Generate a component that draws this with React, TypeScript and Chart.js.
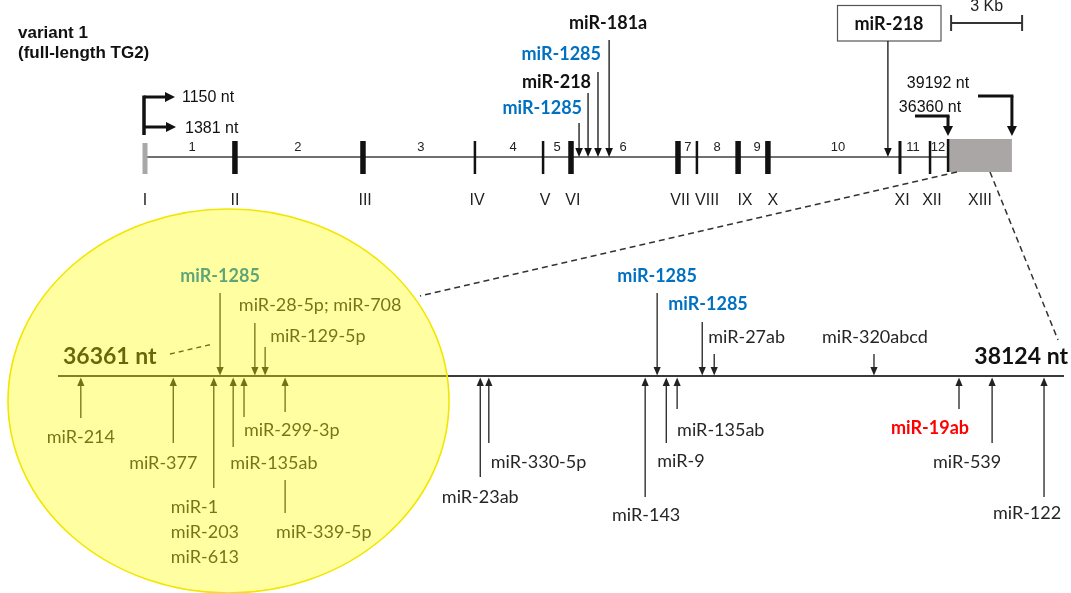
import React, { useEffect, useRef } from "react";
import { Chart, registerables } from "chart.js";

Chart.register(...registerables);

const CANVAS_W = 1071;
const CANVAS_H = 593;

// ---------------- data ----------------
const titleLines = ["variant 1", "(full-length TG2)"];

// TG2 gene: exons (kb from exon I)
const exonNames = ["I", "II", "III", "IV", "V", "VI", "VII", "VIII", "IX", "X", "XI", "XII", "XIII"];
const exonKb = [0, 3.8, 9.21, 13.94, 16.82, 18.0, 22.52, 23.32, 25.06, 26.32, 31.9, 33.17, 33.93];
const exonXIIIEndKb = 36.63;
const exonIsLarge = [false, true, true, false, false, true, true, false, true, true, false, false, false];
const exonLabelKb = [0, 3.8, 9.3, 14.03, 16.9, 18.08, 22.61, 23.75, 25.35, 26.53, 31.99, 33.25, 35.28];

const intronNames = ["1", "2", "3", "4", "5", "6", "7", "8", "9", "10", "11", "12"];
const intronLabelKb = [1.99, 6.46, 11.66, 15.55, 17.41, 20.2, 22.94, 24.17, 25.86, 29.28, 32.45, 33.51];

const tssLabels = ["1150 nt", "1381 nt"];
const utrMarkLabels = ["36360 nt", "39192 nt"];
const utrMarkKb = [33.93, 36.63];

// miRNA sites in the coding region (kb)
const codingMirNames = ["miR-1285", "miR-218", "miR-1285", "miR-181a"];
const codingMirKb = [18.34, 18.72, 19.14, 19.61];
const codingMirBlue = [true, false, true, false];
const boxedMirName = "miR-218";
const boxedMirKb = 31.39;
const scaleBarLabel = "3 Kb";
const scaleBarStartKb = 34.06;
const scaleBarKbLen = 3;

// 3'UTR zoom (nt)
const utrStartNt = 36361;
const utrEndNt = 38124;
const utrMirNames = [
  "miR-214", "miR-377", "miR-1285", "miR-1\nmiR-203\nmiR-613", "miR-135ab", "miR-299-3p",
  "miR-28-5p; miR-708", "miR-129-5p", "miR-339-5p", "miR-23ab", "miR-330-5p", "miR-143",
  "miR-1285", "miR-9", "miR-135ab", "miR-1285", "miR-27ab", "miR-320abcd", "miR-19ab",
  "miR-539", "miR-122",
];
const utrMirNt = [
  36401, 36563, 36645, 36634, 36668, 36687, 36706, 36724, 36759, 37101, 37116, 37390,
  37411, 37427, 37446, 37490, 37511, 37791, 37940, 37998, 38089,
];
const utrMirDown = [
  false, false, true, false, false, false, true, true, false, false, false, false,
  true, false, false, true, true, true, false, false, false,
];
const utrMirKind = [
  "n", "n", "blue", "n", "n", "n", "n", "n", "n", "n", "n", "n",
  "blue", "n", "n", "blue", "n", "n", "red", "n", "n",
];

// layout for the UTR labels: [stem end y, label dx, label y, align]
const utrLayout: [number, number, number, CanvasTextAlign][] = [
  [418, 0, 437, "center"],
  [443, -10, 463, "center"],
  [293, 0, 276, "center"],
  [488, -43, 507, "left"],
  [447, -3, 463, "left"],
  [417, 0, 430, "left"],
  [323, -16, 305, "left"],
  [347, 5, 336, "left"],
  [412, -9, 532, "left"],
  [477, 0, 497, "center"],
  [443, 2, 462, "left"],
  [497, 1, 515, "center"],
  [293, 0, 276, "center"],
  [443, -9, 461, "left"],
  [409, 0, 430, "left"],
  [322, -34, 304, "left"],
  [354, -6, 337, "left"],
  [354, -52, 337, "left"],
  [409, -29, 428, "center"],
  [443, -25, 462, "center"],
  [497, -17, 513, "center"],
];

const ARIAL = '"Liberation Sans", Arial, sans-serif';
const CAL = 'Lato, "Open Sans", sans-serif';
const BLUE = "#0070C0";
const RED = "#FF0000";
const INK = "#262626";

function seg(ctx: CanvasRenderingContext2D, x1: number, y1: number, x2: number, y2: number, color: string, w: number, dash: number[] = []) {
  ctx.save();
  ctx.strokeStyle = color;
  ctx.lineWidth = w;
  ctx.setLineDash(dash);
  ctx.beginPath();
  ctx.moveTo(x1, y1);
  ctx.lineTo(x2, y2);
  ctx.stroke();
  ctx.restore();
}

function head(ctx: CanvasRenderingContext2D, x: number, y: number, dir: string, len: number, half: number, color: string) {
  ctx.save();
  ctx.fillStyle = color;
  ctx.beginPath();
  if (dir === "down") {
    ctx.moveTo(x, y); ctx.lineTo(x - half, y - len); ctx.lineTo(x + half, y - len);
  } else if (dir === "up") {
    ctx.moveTo(x, y); ctx.lineTo(x - half, y + len); ctx.lineTo(x + half, y + len);
  } else {
    ctx.moveTo(x, y); ctx.lineTo(x - len, y - half); ctx.lineTo(x - len, y + half);
  }
  ctx.closePath();
  ctx.fill();
  ctx.restore();
}

function txt(ctx: CanvasRenderingContext2D, s: string, x: number, y: number, font: string, color: string, align: CanvasTextAlign = "center") {
  ctx.save();
  ctx.font = font;
  ctx.fillStyle = color;
  ctx.textAlign = align;
  ctx.textBaseline = "middle";
  ctx.fillText(s, x, y);
  ctx.restore();
}

const diagramPlugin = {
  id: "tg2diagram",
  afterDraw(chart: any) {
    const ctx: CanvasRenderingContext2D = chart.ctx;
    const gx = (v: number) => chart.scales.xGene.getPixelForValue(v);
    const ux = (v: number) => chart.scales.xUtr.getPixelForValue(v);
    const px = (v: number) => chart.scales.xPage.getPixelForValue(v);
    const py = (v: number) => chart.scales.y.getPixelForValue(v);

    // title
    titleLines.forEach((t, i) => txt(ctx, t, px(18), py(33 + i * 20), `bold 17px ${ARIAL}`, "#111", "left"));

    // gene line
    const geneY = py(157);
    seg(ctx, gx(0), geneY, gx(exonKb[12]), geneY, "#404040", 1.6);

    // exons
    exonKb.forEach((k, i) => {
      const x = gx(k);
      if (i === 0) {
        ctx.fillStyle = "#a8a8a8";
        ctx.fillRect(x - 2.5, py(143), 5, py(174) - py(143));
      } else if (i === 12) {
        ctx.fillStyle = "#aba6a6";
        ctx.fillRect(x + 1, py(139), gx(exonXIIIEndKb) - x - 1, py(172) - py(139));
        ctx.fillStyle = "#111";
        ctx.fillRect(x - 1.2, py(139), 2.5, py(172) - py(139));
      } else {
        const w = exonIsLarge[i] ? 5.5 : i === 10 ? 3 : 2.5;
        ctx.fillStyle = "#111";
        ctx.fillRect(x - w / 2, py(141), w, py(174) - py(141));
      }
    });
    exonNames.forEach((n, i) => txt(ctx, n, gx(exonLabelKb[i]), py(201), `16px ${ARIAL}`, "#222"));
    intronNames.forEach((n, i) => txt(ctx, n, gx(intronLabelKb[i]), py(147), `13px ${ARIAL}`, "#222"));

    // TSS bent arrows (left)
    const tx = gx(0) - 1;
    seg(ctx, tx, py(135), tx, py(95.5), "#111", 3.5);
    seg(ctx, tx, py(97), px(165), py(97), "#111", 3);
    head(ctx, px(175), py(97), "right", 10, 5, "#111");
    seg(ctx, tx, py(127), px(166), py(127), "#111", 3);
    head(ctx, px(176), py(127), "right", 10, 5, "#111");
    txt(ctx, tssLabels[0], px(182), py(98), `16px ${ARIAL}`, "#111", "left");
    txt(ctx, tssLabels[1], px(185), py(129), `16px ${ARIAL}`, "#111", "left");

    // 3'UTR start / end bent arrows
    const m0 = gx(utrMarkKb[0]);
    seg(ctx, px(915), py(116), m0 + 1.5, py(116), "#111", 3);
    seg(ctx, m0, py(116), m0, py(127), "#111", 3);
    head(ctx, m0, py(136), "down", 10, 5, "#111");
    const m1 = gx(utrMarkKb[1]);
    seg(ctx, px(978), py(96), m1 + 1.5, py(96), "#111", 3);
    seg(ctx, m1, py(96), m1, py(126), "#111", 3);
    head(ctx, m1, py(136), "down", 10, 5, "#111");
    txt(ctx, utrMarkLabels[1], px(938), py(84), `16px ${ARIAL}`, "#111");
    txt(ctx, utrMarkLabels[0], px(930), py(108), `16px ${ARIAL}`, "#111");

    // coding-region miRNAs
    const stemTops = [123, 93, 72, 40];
    const labelYs = [108, 82, 54, 23];
    codingMirKb.forEach((k, i) => {
      const x = gx(k);
      seg(ctx, x, py(stemTops[i]), x, py(149), "#111", 1.3);
      head(ctx, x, py(157), "down", 9, 3.8, "#111");
      const color = codingMirBlue[i] ? BLUE : "#111";
      if (i === 3) txt(ctx, codingMirNames[i], x - 1, py(labelYs[i]), `bold 18px ${CAL}`, color, "center");
      else txt(ctx, codingMirNames[i], x + 3, py(labelYs[i]), `bold 18px ${CAL}`, color, "right");
    });

    // boxed miR-218
    ctx.save();
    ctx.strokeStyle = "#555";
    ctx.lineWidth = 1.2;
    ctx.strokeRect(px(837.5), py(5.5), px(941) - px(837.5), py(41) - py(5.5));
    ctx.restore();
    txt(ctx, boxedMirName, px(889), py(24), `bold 18px ${CAL}`, "#111");
    const bx = gx(boxedMirKb);
    seg(ctx, bx, py(41), bx, py(149), "#111", 1.3);
    head(ctx, bx, py(157), "down", 9, 3.8, "#111");

    // scale bar
    const s0 = gx(scaleBarStartKb), s1 = gx(scaleBarStartKb + scaleBarKbLen);
    seg(ctx, s0, py(23), s1, py(23), "#333", 2);
    seg(ctx, s0, py(15), s0, py(31), "#333", 2);
    seg(ctx, s1, py(15), s1, py(31), "#333", 2);
    txt(ctx, scaleBarLabel, (s0 + s1) / 2, py(7), `16px ${ARIAL}`, "#222");

    // zoom dashed lines
    seg(ctx, px(957), py(172), px(420), py(296), "#333", 1.5, [6, 4]);
    seg(ctx, px(990), py(172), px(1058), py(340), "#333", 1.5, [6, 4]);

    // UTR line
    const uy = py(376);
    seg(ctx, ux(utrStartNt), uy, ux(utrEndNt), uy, "#3a3a3a", 2);
    txt(ctx, `${utrStartNt} nt`, px(63), py(357), `bold 23px ${CAL}`, "#111", "left");
    txt(ctx, `${utrEndNt} nt`, px(1068), py(357), `bold 23px ${CAL}`, "#111", "right");
    seg(ctx, px(170), py(354), px(213), py(344), "#222", 1.4, [5, 4]);

    utrMirNt.forEach((nt, i) => {
      const x = ux(nt);
      const [stem, dx, ly, align] = utrLayout[i];
      if (utrMirDown[i]) {
        seg(ctx, x, py(stem), x, py(368), "#222", 1.3);
        head(ctx, x, py(375.5), "down", 8.5, 3.6, "#222");
      } else {
        seg(ctx, x, py(385), x, py(stem), "#222", 1.3);
        head(ctx, x, py(377.5), "up", 8.5, 3.6, "#222");
      }
      const kind = utrMirKind[i];
      const color = kind === "blue" ? BLUE : kind === "red" ? RED : INK;
      const font = kind === "n" ? `18px ${CAL}` : `bold 18px ${CAL}`;
      utrMirNames[i].split("\n").forEach((line, j) => txt(ctx, line, x + dx, py(ly + j * 25), font, color, align));
      if (utrMirNames[i] === "miR-339-5p") seg(ctx, x, py(480), x, py(513), "#222", 1.3);
    });

    // yellow highlight ellipse (translucent overlay)
    ctx.save();
    ctx.beginPath();
    ctx.ellipse(px(228.5), py(401), 220.5, 192, 0, 0, Math.PI * 2);
    ctx.fillStyle = "rgba(255,255,0,0.37)";
    ctx.fill();
    ctx.strokeStyle = "#f2e600";
    ctx.lineWidth = 1.6;
    ctx.stroke();
    ctx.restore();
  },
};

export default function App() {
  const ref = useRef<HTMLCanvasElement | null>(null);
  useEffect(() => {
    document.body.style.margin = "0";
    const canvas = ref.current;
    if (!canvas) return;
    const chart = new Chart(canvas, {
      type: "scatter",
      data: {
        datasets: [
          {
            xAxisID: "xGene",
            yAxisID: "y",
            data: exonKb.map((k) => ({ x: k, y: 157 })),
            pointRadius: 0,
            pointHoverRadius: 0,
          },
          {
            xAxisID: "xUtr",
            yAxisID: "y",
            data: utrMirNt.map((n) => ({ x: n, y: 376 })),
            pointRadius: 0,
            pointHoverRadius: 0,
          },
          {
            xAxisID: "xPage",
            yAxisID: "y",
            data: [],
            pointRadius: 0,
          },
        ],
      },
      options: {
        responsive: false,
        animation: false,
        events: [],
        layout: { padding: 0, autoPadding: false },
        plugins: { legend: { display: false }, tooltip: { enabled: false } },
        scales: {
          xGene: { type: "linear", display: false, min: -145 / 23.667, max: (CANVAS_W - 145) / 23.667 },
          xUtr: {
            type: "linear",
            display: false,
            min: utrStartNt - 58 * (utrEndNt - utrStartNt) / 1006,
            max: utrEndNt + 7 * (utrEndNt - utrStartNt) / 1006,
          },
          xPage: { type: "linear", display: false, min: 0, max: CANVAS_W },
          y: { type: "linear", display: false, min: 0, max: CANVAS_H, reverse: true },
        },
      } as any,
      plugins: [diagramPlugin],
    });
    return () => chart.destroy();
  }, []);
  return (
    <div style={{ position: "absolute", left: 0, top: 0, width: CANVAS_W, height: CANVAS_H, background: "#fff" }}>
      <canvas ref={ref} width={CANVAS_W} height={CANVAS_H} style={{ display: "block" }} />
    </div>
  );
}
